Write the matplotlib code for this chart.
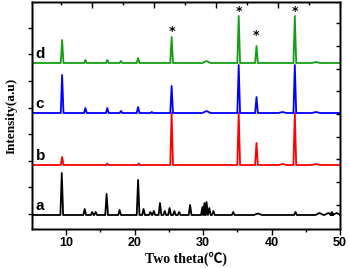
import numpy as np
import matplotlib
matplotlib.use("Agg")
from matplotlib import pyplot as plt
from matplotlib.ticker import FixedLocator

# peak lists: position (2theta), height (a.u.)
a_pos = [9.35, 12.7, 13.8, 14.3, 15.9, 17.8, 20.5, 21.3, 22.3, 22.8, 23.7, 24.4,
         25.1, 25.8, 26.5, 28.1, 29.9, 30.2, 30.5, 30.9, 31.5, 34.4, 38.0,
         43.5, 47.0, 48.3, 48.8, 49.5]
a_h = [42, 6, 3, 3, 21, 5, 35, 6, 3, 4, 12, 4,
       7, 4, 3, 10, 8, 12, 13, 7, 4, 3, 1.5,
       3, 2, 2, 3, 2]

b_pos = [9.4, 16.0, 20.6, 25.4, 35.2, 37.8, 41.6, 43.4, 46.5]
b_h = [8, 1.5, 1.5, 52, 52, 22, 1, 52, 1]

c_pos = [9.4, 12.8, 16.0, 18.0, 20.5, 22.5, 25.4, 30.5, 35.2, 37.8, 41.6, 43.4, 46.5]
c_h = [38, 5, 5, 2, 6, 1, 27, 2, 48, 16, 1, 48, 1]

d_pos = [9.4, 12.8, 16.0, 18.0, 20.5, 25.4, 30.5, 35.2, 37.8, 43.4, 46.5]
d_h = [23, 3, 3, 2, 5, 26, 2, 47, 17, 47, 1]

labels = ["a", "b", "c", "d"]
offsets = [14, 64, 116, 166]
colors = ["black", "#ff0000", "#0000ff", "#11a011"]

star_pos = [25.4, 35.2, 37.8, 43.4]
star_y = [197, 217, 194, 217]


def pattern(pos, h):
    xs, ys = [5.0], [0.0]
    for p, v in sorted(zip(pos, h)):
        w = 0.6 if v <= 2 and p > 29 else 0.2
        xs += [p - w, p, p + w]
        ys += [0.0, v, 0.0]
    xs.append(50.0)
    ys.append(0.0)
    return np.array(xs), np.array(ys)


fig = plt.figure(figsize=(3.49, 2.68), dpi=100)
ax = fig.add_axes([32 / 349, 1 - 229 / 268, 308 / 349, 227 / 268])

series = [(a_pos, a_h), (b_pos, b_h), (c_pos, c_h), (d_pos, d_h)]
for (pos, h), off, col, lab in zip(series, offsets, colors, labels):
    x, y = pattern(pos, h)
    ax.plot(x, y + off, color=col, lw=1.3)
    ax.text(5.55, off + 2, lab, fontsize=11, fontweight="bold",
            family="Liberation Sans", ha="left", va="bottom")

for xp, yp in zip(star_pos, star_y):
    ax.text(xp, yp, "*", fontsize=9, fontweight="bold", ha="center", va="center")

ax.set_xlim(5, 50)
ax.set_ylim(0, 227)
ax.set_xticks([10, 20, 30, 40, 50])
ax.xaxis.set_minor_locator(FixedLocator([15, 25, 35, 45]))
ax.set_yticks([15 + 26.6 * k for k in range(8)])
ax.set_yticklabels([])
ax.tick_params(axis="x", which="major", direction="out", length=4, width=1,
               labelsize=9, pad=2)
ax.tick_params(axis="x", which="minor", direction="out", length=2.5, width=1)
ax.tick_params(axis="y", direction="out", length=3, width=1)
for lab in ax.get_xticklabels():
    lab.set_fontweight("bold")
    lab.set_family("Liberation Sans")

# right and top axes with their own tick spacing
axr = ax.twinx()
axr.set_ylim(0, 227)
axr.set_yticks([1.6 + 22.7 * k for k in range(1, 10)])
axr.set_yticklabels([])
axr.tick_params(axis="y", direction="in", length=3, width=1)

axt = ax.twiny()
axt.set_xlim(5, 50)
axt.set_xticks([13.8 + 9.07 * k for k in range(5)])
axt.xaxis.set_minor_locator(FixedLocator([9.25 + 9.07 * k for k in range(5)]))
axt.set_xticklabels([])
axt.tick_params(axis="x", which="major", direction="in", length=4, width=1)
axt.tick_params(axis="x", which="minor", direction="in", length=2.5, width=1)

for a_ in (ax, axr, axt):
    for s in a_.spines.values():
        s.set_linewidth(1.0)

ax.set_xlabel("Two theta(℃)", fontsize=10, fontweight="bold",
              family=["Liberation Serif", "Noto Sans CJK SC"], labelpad=2)
ax.set_ylabel("Intensity(a.u)", fontsize=9.5, fontweight="bold",
              family=["Liberation Serif"], labelpad=4)

fig.savefig("out.png", dpi=100)
